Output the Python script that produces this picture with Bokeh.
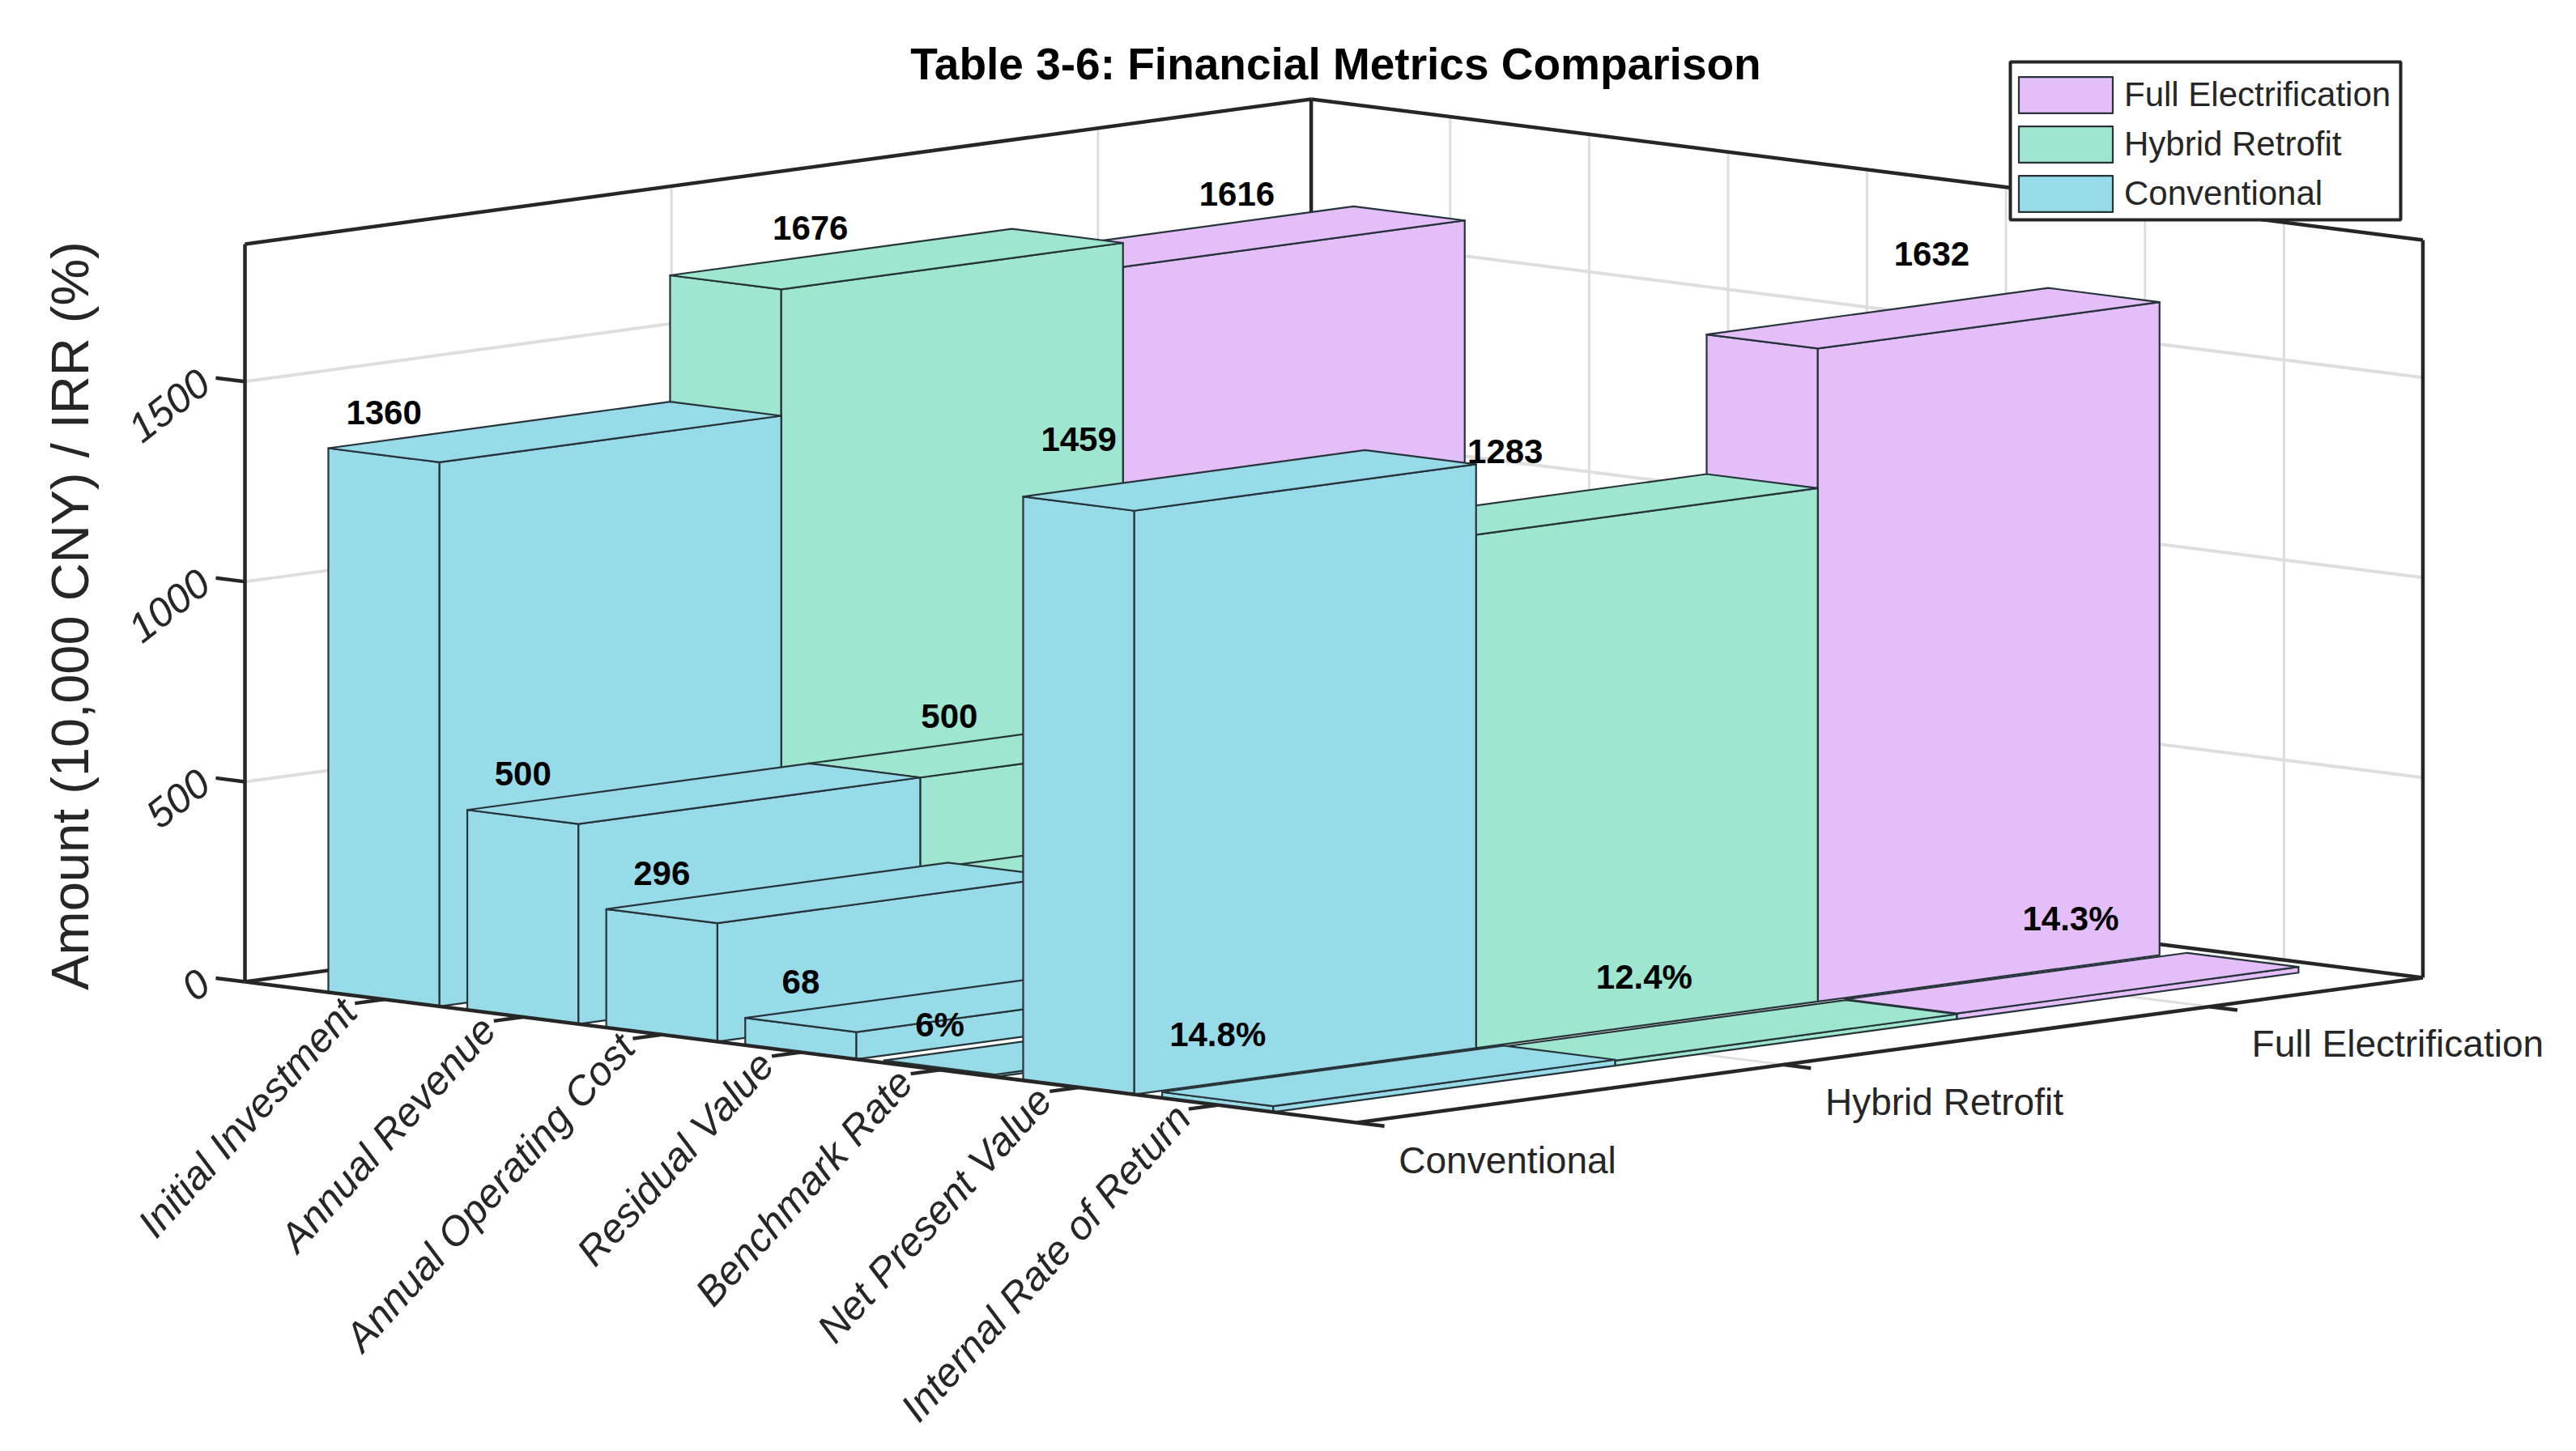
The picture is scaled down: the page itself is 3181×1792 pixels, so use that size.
from bokeh.plotting import figure
from bokeh.models import Range1d, Legend, LegendItem
from bokeh.core.properties import value
from bokeh.embed import file_html
from bokeh.resources import INLINE

# ---------- data ----------
metrics = ["Initial Investment", "Annual Revenue", "Annual Operating Cost", "Residual Value",
           "Benchmark Rate", "Net Present Value", "Internal Rate of Return"]
scenarios = ["Conventional", "Hybrid Retrofit", "Full Electrification"]
conventional = [1360, 500, 296, 68, 6, 1459, 14.8]
hybrid = [1676, 500, 288, 84, 6, 1283, 12.4]
full = [1616, 500, 280, 82, 6, 1632, 14.3]
series = [conventional, hybrid, full]
value_labels = [["1360", "500", "296", "68", "6%", "1459", "14.8%"],
                ["1676", "500", "", "", "", "1283", "12.4%"],
                ["1616", "", "", "", "", "1632", "14.3%"]]
z_ticks = [0, 500, 1000, 1500]
colors = ["#98DBE8", "#9EE6CF", "#E3BEF8"]

# ---------- view (orthographic projection of the MATLAB-style 3-D axes) ----------
X_MAX, Y_MAX, Z_MAX = 8.0, 3.12, 1843.6
Y_TICKS = [0.0, 1.248, 2.496]
BAR_W = 0.8
OX, OY = 302.0, 1212.0
EX = (171.6, 21.75)
EY = (422.0, -57.4)
EZ = 911.0 / Z_MAX


def proj(x, y, z):
    return (OX + x * EX[0] + y * EY[0], OY + x * EX[1] + y * EY[1] - z * EZ)


def seg(a, b):
    pa, pb = proj(*a), proj(*b)
    return [pa[0], pb[0]], [pa[1], pb[1]]


p = figure(width=3165, height=1776, output_backend="svg", toolbar_location=None,
           x_range=Range1d(0, 3165), y_range=Range1d(1776, 0), min_border=0)
p.axis.visible = False
p.grid.visible = False
p.outline_line_color = None
p.background_fill_color = "white"

GRID = "#dedede"
AX = "#262626"

# grid: back walls and floor
gx, gy = [], []
for z in z_ticks[1:]:
    for a, b in [((0, 0, z), (0, Y_MAX, z)), ((0, Y_MAX, z), (X_MAX, Y_MAX, z))]:
        xs, ys = seg(a, b)
        gx.append(xs)
        gy.append(ys)
p.multi_line(gx, gy, line_color=GRID, line_width=4)
gx, gy = [], []
for k in range(1, 8):
    for a, b in [((k, Y_MAX, 0), (k, Y_MAX, Z_MAX)), ((k, 0, 0), (k, Y_MAX, 0))]:
        xs, ys = seg(a, b)
        gx.append(xs)
        gy.append(ys)
for t in Y_TICKS[1:]:
    for a, b in [((0, t, 0), (0, t, Z_MAX)), ((0, t, 0), (X_MAX, t, 0))]:
        xs, ys = seg(a, b)
        gx.append(xs)
        gy.append(ys)
p.multi_line(gx, gy, line_color=GRID, line_width=3)

# box edges behind the bars
edges = [((0, 0, 0), (0, 0, Z_MAX)), ((0, 0, Z_MAX), (0, Y_MAX, Z_MAX)),
         ((0, Y_MAX, Z_MAX), (X_MAX, Y_MAX, Z_MAX)), ((X_MAX, Y_MAX, Z_MAX), (X_MAX, Y_MAX, 0)),
         ((0, Y_MAX, 0), (0, Y_MAX, Z_MAX)),
         ((0, 0, 0), (0, Y_MAX, 0)), ((0, Y_MAX, 0), (X_MAX, Y_MAX, 0))]
ex, ey = zip(*[seg(a, b) for a, b in edges])
p.multi_line(list(ex), list(ey), line_color=AX, line_width=4.5)

# bars, painted back to front
first = {}
for i in range(len(metrics)):
    x0, x1 = i + 1 - BAR_W / 2, i + 1 + BAR_W / 2
    for s in (2, 1, 0):
        z = series[s][i]
        y0, y1 = s, s + 1
        faces = [
            [(x0, y0, 0), (x1, y0, 0), (x1, y0, z), (x0, y0, z)],
            [(x1, y0, 0), (x1, y1, 0), (x1, y1, z), (x1, y0, z)],
            [(x0, y0, z), (x1, y0, z), (x1, y1, z), (x0, y1, z)],
        ]
        xs = [[proj(*c)[0] for c in f] for f in faces]
        ys = [[proj(*c)[1] for c in f] for f in faces]
        r = p.patches(xs, ys, fill_color=colors[s], line_color="#26343a", line_width=2.2,
                      line_join="round")
        first.setdefault(s, r)

# front axis lines and tick marks
edges = [((0, 0, 0), (X_MAX, 0, 0)), ((X_MAX, 0, 0), (X_MAX, Y_MAX, 0))]
for k in range(1, 8):
    edges.append(((k, 0, 0), (k, -0.085, 0)))
for t in Y_TICKS:
    edges.append(((X_MAX, t, 0), (X_MAX + 0.2, t, 0)))
for z in z_ticks:
    edges.append(((0, 0, z), (-0.21, 0, z)))
ex, ey = zip(*[seg(a, b) for a, b in edges])
p.multi_line(list(ex), list(ey), line_color=AX, line_width=4.5)

FONT = value("Liberation Sans")

# value labels
lx, ly, lt = [], [], []
for s in range(3):
    for i in range(len(metrics)):
        if value_labels[s][i]:
            px, py = proj(i + 1, Y_TICKS[s], series[s][i])
            lx.append(px)
            ly.append(py - (80 if i >= 5 else 53))
            lt.append(value_labels[s][i])
p.text(lx, ly, text=lt, text_font=FONT, text_font_style="bold", text_font_size="42px",
       text_color="black", text_align="center", text_baseline="middle")

# category tick labels
lx, ly = [], []
for i in range(len(metrics)):
    px, py = proj(i + 1, 0, 0)
    lx.append(px - 43)
    ly.append(py + 7)
p.text(lx, ly, text=metrics, text_font=FONT, text_font_style="italic", text_font_size="50px",
       text_color=AX, text_align="right", text_baseline="middle", angle=48, angle_units="deg")

# scenario tick labels
lx, ly = [], []
for t in Y_TICKS:
    px, py = proj(X_MAX, t, 0)
    lx.append(px + 52)
    ly.append(py + 46)
p.text(lx, ly, text=scenarios, text_font=FONT, text_font_size="46px",
       text_color=AX, text_align="left", text_baseline="middle")

# value-axis tick labels
lx, ly = [], []
for z in z_ticks:
    px, py = proj(0, 0, z)
    lx.append(px - 50)
    ly.append(py - 5)
p.text(lx, ly, text=[str(z) for z in z_ticks], text_font=FONT, text_font_style="italic",
       text_font_size="50px", text_color=AX, text_align="right", text_baseline="middle",
       angle=38, angle_units="deg")

# axis title and chart title
p.text([86], [760], text=["Amount (10,000 CNY) / IRR (%)"], text_font=FONT, text_font_size="65px",
       text_color=AX, text_align="center", text_baseline="middle", angle=90, angle_units="deg")
p.text([1649], [78], text=["Table 3-6: Financial Metrics Comparison"], text_font=FONT,
       text_font_style="bold", text_font_size="55px", text_color="black",
       text_align="center", text_baseline="middle")

# legend frame (the legend's own swatches and labels are drawn above it)
p.quad(left=[2482], right=[2964], top=[76], bottom=[271], fill_color="white", line_color=AX,
       line_width=4)
legend = Legend(
    items=[LegendItem(label=scenarios[s], renderers=[first[s]]) for s in (2, 1, 0)],
    location=(2478, 1509), orientation="vertical",
    glyph_width=145, glyph_height=56, spacing=5, padding=0, margin=0, label_standoff=0,
    label_width=330, label_height=56,
    label_text_font="Liberation Sans", label_text_font_size="42px", label_text_color=AX,
    border_line_color=None, background_fill_alpha=0.0,
)
p.add_layout(legend, "center")

open("out.html", "w").write(file_html(p, INLINE))
